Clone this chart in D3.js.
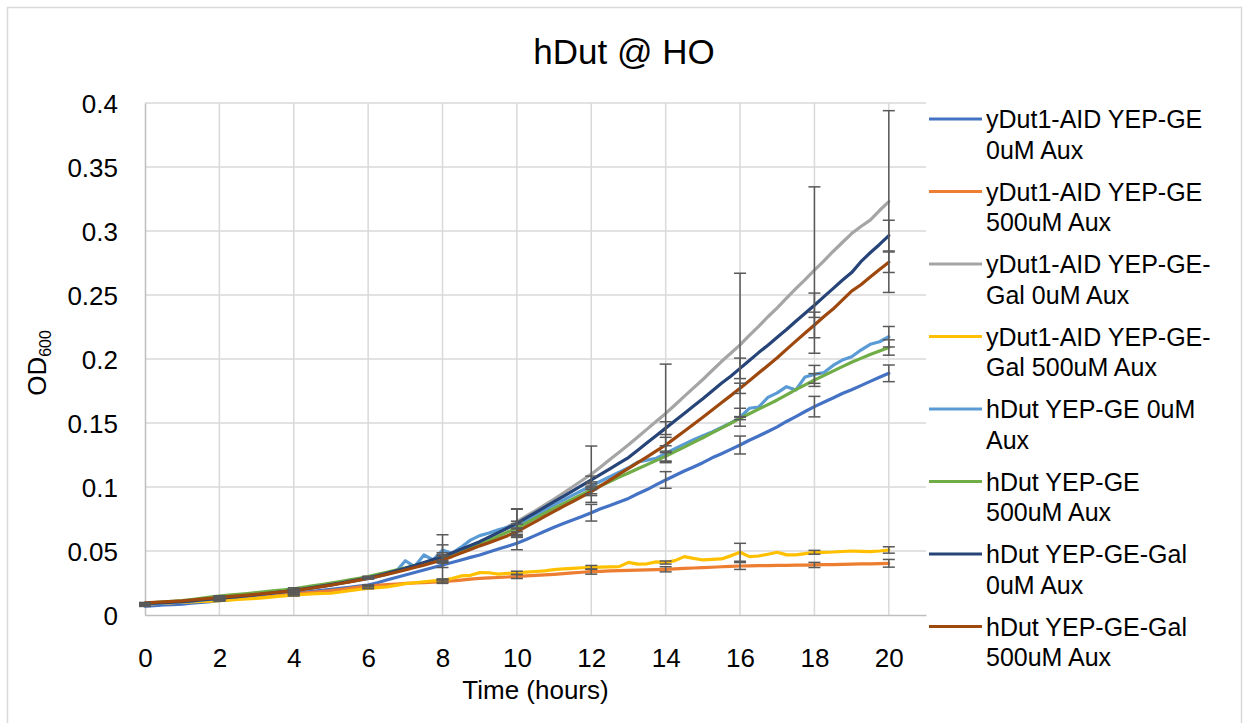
<!DOCTYPE html>
<html>
<head>
<meta charset="utf-8">
<script src="https://cdn.jsdelivr.net/npm/d3@7"></script>
<style>
  body { margin: 0; background: #fff; }
  svg { display: block; font-family: "Liberation Sans", Arial, sans-serif; }
</style>
</head>
<body>
<svg id="chart" width="1248" height="723"></svg>
<script>
// sample times, every 15 minutes from 0 to 20 hours
const hours = d3.range(0, 20.001, 0.25);
// error bars are only shown every 2 hours
const errHours = [0, 2, 4, 6, 8, 10, 12, 14, 16, 18, 20];

// OD600 values, one per sample time
const ydut1Ge0 = [
  .0070,.0074,.0078,.0081, .0085,.0092,.0098,.0105, .0112,.0119,.0126,.0133, .0140,.0148,.0155,.0163,
  .0170,.0177,.0185,.0192, .0200,.0208,.0217,.0225, .0234,.0252,.0273,.0293, .0313,.0332,.0352,.0371,
  .0391,.0410,.0430,.0450, .0469,.0492,.0515,.0537, .0560,.0590,.0622,.0654, .0685,.0714,.0742,.0770,
  .0799,.0830,.0855,.0883, .0911,.0947,.0980,.1019, .1055,.1090,.1125,.1156, .1190,.1228,.1260,.1294,
  .1328,.1365,.1398,.1434, .1470,.1512,.1550,.1590, .1628,.1662,.1695,.1730, .1760,.1792,.1825,.1857, .1888];
const ydut1Ge500 = [
  .0085,.0088,.0092,.0096, .0100,.0105,.0110,.0115, .0120,.0125,.0130,.0135, .0140,.0146,.0152,.0158,
  .0165,.0171,.0177,.0183, .0190,.0199,.0208,.0218, .0227,.0232,.0237,.0242, .0247,.0250,.0253,.0257,
  .0260,.0267,.0273,.0280, .0286,.0290,.0293,.0297, .0300,.0305,.0309,.0314, .0318,.0323,.0329,.0334,
  .0339,.0341,.0344,.0346, .0348,.0350,.0353,.0355, .0357,.0360,.0364,.0367, .0370,.0373,.0377,.0380,
  .0383,.0384,.0385,.0386, .0387,.0388,.0389,.0390, .0391,.0393,.0394,.0396, .0397,.0399,.0400,.0402, .0404];
const ydut1GeGal0 = [
  .0088,.0091,.0095,.0098, .0102,.0108,.0115,.0121, .0128,.0135,.0142,.0149, .0156,.0164,.0172,.0181,
  .0190,.0201,.0212,.0223, .0235,.0248,.0261,.0274, .0288,.0305,.0323,.0342, .0362,.0384,.0406,.0429,
  .0452,.0481,.0510,.0540, .0570,.0608,.0648,.0689, .0730,.0773,.0816,.0860, .0905,.0953,.1002,.1051,
  .1100,.1157,.1215,.1272, .1330,.1391,.1452,.1514, .1575,.1641,.1708,.1774, .1840,.1910,.1980,.2045,
  .2110,.2185,.2255,.2330, .2400,.2475,.2550,.2620, .2695,.2765,.2840,.2910, .2980,.3035,.3085,.3160, .3230];
const ydut1GeGal500 = [
  .0085,.0088,.0092,.0096, .0100,.0103,.0106,.0109, .0112,.0116,.0121,.0125, .0130,.0136,.0143,.0149,
  .0156,.0160,.0165,.0168, .0170,.0180,.0190,.0199, .0208,.0214,.0220,.0232, .0245,.0252,.0260,.0266,
  .0270,.0285,.0305,.0310, .0331,.0330,.0320,.0325, .0330,.0335,.0340,.0345, .0355,.0360,.0365,.0369,
  .0372,.0374,.0376,.0378, .0411,.0398,.0400,.0415, .0410,.0425,.0456,.0442, .0430,.0435,.0438,.0462,
  .0490,.0456,.0461,.0475, .0490,.0470,.0470,.0480, .0490,.0490,.0492,.0496, .0500,.0497,.0495,.0500, .0508];
const hdutGe0 = [
  .0085,.0089,.0093,.0098, .0102,.0109,.0116,.0123, .0130,.0137,.0144,.0151, .0158,.0166,.0174,.0182,
  .0190,.0201,.0212,.0223, .0235,.0247,.0260,.0272, .0285,.0300,.0318,.0340, .0424,.0378,.0469,.0430,
  .0508,.0480,.0530,.0585, .0620,.0640,.0665,.0685, .0703,.0740,.0780,.0820, .0860,.0898,.0936,.0973,
  .1010,.1045,.1080,.1115, .1150,.1195,.1210,.1225, .1262,.1300,.1335,.1370, .1400,.1430,.1465,.1500,
  .1545,.1615,.1625,.1700, .1735,.1784,.1758,.1860, .1880,.1893,.1950,.1992, .2018,.2070,.2115,.2135, .2174];
const hdutGe500 = [
  .0092,.0097,.0102,.0107, .0112,.0121,.0130,.0139, .0148,.0155,.0162,.0168, .0175,.0182,.0190,.0197,
  .0205,.0216,.0227,.0238, .0250,.0262,.0275,.0287, .0300,.0317,.0334,.0351, .0368,.0386,.0405,.0423,
  .0442,.0470,.0497,.0525, .0552,.0584,.0616,.0648, .0680,.0718,.0757,.0796, .0835,.0870,.0906,.0941,
  .0977,.1010,.1043,.1077, .1110,.1143,.1175,.1208, .1240,.1276,.1312,.1349, .1385,.1423,.1460,.1498,
  .1536,.1572,.1608,.1644, .1680,.1720,.1760,.1798, .1836,.1870,.1905,.1940, .1975,.2005,.2035,.2062, .2090];
const hdutGeGal0 = [
  .0090,.0093,.0097,.0101, .0105,.0111,.0117,.0123, .0130,.0137,.0144,.0151, .0158,.0166,.0175,.0183,
  .0192,.0203,.0214,.0225, .0237,.0250,.0263,.0276, .0290,.0307,.0326,.0345, .0365,.0387,.0410,.0433,
  .0456,.0485,.0514,.0543, .0573,.0608,.0644,.0680, .0716,.0758,.0800,.0843, .0885,.0927,.0970,.1012,
  .1055,.1098,.1142,.1186, .1230,.1288,.1345,.1403, .1460,.1518,.1575,.1633, .1690,.1750,.1810,.1865,
  .1927,.1988,.2050,.2108, .2170,.2230,.2295,.2358, .2420,.2485,.2550,.2615, .2675,.2760,.2830,.2895, .2964];
const hdutGeGal500 = [
  .0095,.0098,.0102,.0106, .0110,.0117,.0124,.0131, .0138,.0144,.0150,.0156, .0162,.0169,.0176,.0183,
  .0190,.0200,.0211,.0222, .0234,.0246,.0259,.0272, .0285,.0301,.0317,.0334, .0352,.0371,.0390,.0410,
  .0430,.0456,.0484,.0512, .0540,.0565,.0592,.0620, .0650,.0690,.0730,.0770, .0810,.0848,.0886,.0925,
  .0963,.1008,.1054,.1100, .1146,.1190,.1236,.1282, .1328,.1382,.1436,.1490, .1545,.1602,.1658,.1714,
  .1771,.1830,.1890,.1950, .2010,.2075,.2140,.2203, .2266,.2330,.2390,.2460, .2530,.2580,.2640,.2700, .2756];

// standard deviations at errHours, same order as the series
const ydut1Ge0Err      = [.0003,.0003,.0008,.0003,.0020,.0050,.0065,.0065,.0070,.0080,.0065];
const ydut1Ge500Err    = [.0003,.0003,.0008,.0003,.0013,.0015,.0020,.0020,.0027,.0020,.0030];
const ydut1GeGal0Err   = [.0003,.0003,.0008,.0003,.0175,.0100,.0220,.0385,.0560,.0650,.0710];
const ydut1GeGal500Err = [.0003,.0003,.0008,.0003,.0012,.0012,.0015,.0012,.0070,.0015,.0025];
const hdutGe0Err       = [.0003,.0003,.0008,.0003,.0040,.0030,.0030,.0060,.0070,.0070,.0080];
const hdutGe500Err     = [.0003,.0003,.0008,.0003,.0025,.0030,.0030,.0040,.0010,.0050,.0060];
const hdutGeGal0Err    = [.0003,.0003,.0008,.0003,.0030,.0110,.0030,.0050,.0080,.0095,.0120];
const hdutGeGal500Err  = [.0003,.0003,.0008,.0003,.0025,.0030,.0030,.0060,.0040,.0100,.0080];

// legend labels, already wrapped the way the original shows them
const seriesLabels = [
  ["yDut1-AID YEP-GE", "0uM Aux"],
  ["yDut1-AID YEP-GE", "500uM Aux"],
  ["yDut1-AID YEP-GE-", "Gal 0uM Aux"],
  ["yDut1-AID YEP-GE-", "Gal 500uM Aux"],
  ["hDut YEP-GE 0uM", "Aux"],
  ["hDut YEP-GE", "500uM Aux"],
  ["hDut YEP-GE-Gal", "0uM Aux"],
  ["hDut YEP-GE-Gal", "500uM Aux"]
];
const seriesColors = ["#4472C4", "#ED7D31", "#A5A5A5", "#FFC000", "#5B9BD5", "#70AD47", "#264478", "#9E480E"];
const xTicks = [0, 2, 4, 6, 8, 10, 12, 14, 16, 18, 20];
const yTicks = [0, 0.05, 0.1, 0.15, 0.2, 0.25, 0.3, 0.35, 0.4];

const seriesValues = [ydut1Ge0, ydut1Ge500, ydut1GeGal0, ydut1GeGal500, hdutGe0, hdutGe500, hdutGeGal0, hdutGeGal500];
const seriesErrors = [ydut1Ge0Err, ydut1Ge500Err, ydut1GeGal0Err, ydut1GeGal500Err, hdutGe0Err, hdutGe500Err, hdutGeGal0Err, hdutGeGal500Err];

const svg = d3.select("#chart");
const x = d3.scaleLinear().domain([0, 21]).range([145, 926]);
const y = d3.scaleLinear().domain([0, 0.4]).range([615, 103]);

// outer chart border
svg.append("rect").attr("x", 7.5).attr("y", 7.5).attr("width", 1234).attr("height", 730)
  .attr("fill", "#fff").attr("stroke", "#d9d9d9").attr("stroke-width", 1.5);

// gridlines
svg.append("g").selectAll("line").data(yTicks.slice(1)).enter().append("line")
  .attr("x1", x(0)).attr("x2", x(21)).attr("y1", d => y(d)).attr("y2", d => y(d))
  .attr("stroke", "#d9d9d9").attr("stroke-width", 1.5);
svg.append("g").selectAll("line").data(xTicks.slice(1)).enter().append("line")
  .attr("x1", d => x(d)).attr("x2", d => x(d)).attr("y1", y(0)).attr("y2", y(0.4))
  .attr("stroke", "#d9d9d9").attr("stroke-width", 1.5);

// axes: lines only, labels placed by the axis generator
const xAxis = svg.append("g").attr("transform", `translate(0,${y(0)})`)
  .call(d3.axisBottom(x).tickValues(xTicks).tickSize(0).tickPadding(34).tickFormat(d3.format("d")));
const yAxis = svg.append("g").attr("transform", `translate(${x(0)},0)`)
  .call(d3.axisLeft(y).tickValues(yTicks).tickSize(0).tickPadding(27).tickFormat(d => d === 0 ? "0" : String(+d.toFixed(2))));
[xAxis, yAxis].forEach(g => {
  g.select(".domain").attr("stroke", "#bfbfbf").attr("stroke-width", 1.5);
  g.selectAll("text").attr("font-size", 26).attr("fill", "#000").attr("font-family", "Liberation Sans, Arial, sans-serif");
});
yAxis.selectAll("text").attr("dy", "0.35em");

// lines
const line = d3.line().x((d, i) => x(hours[i])).y(d => y(d));
svg.append("g").selectAll("path").data(seriesValues).enter().append("path")
  .attr("d", d => line(d))
  .attr("fill", "none")
  .attr("stroke", (d, i) => seriesColors[i])
  .attr("stroke-width", 3.2)
  .attr("stroke-linejoin", "round")
  .attr("stroke-linecap", "round");

// error bars on top of the lines
const bars = [];
seriesValues.forEach((vals, s) => {
  errHours.forEach((h, k) => {
    const v = vals[hours.indexOf(h)];
    bars.push({ h: h, lo: v - seriesErrors[s][k], hi: v + seriesErrors[s][k] });
  });
});
const eb = svg.append("g").attr("stroke", "#595959").attr("stroke-width", 1.5);
eb.selectAll("line.v").data(bars).enter().append("line").attr("class", "v")
  .attr("x1", d => x(d.h)).attr("x2", d => x(d.h)).attr("y1", d => y(d.lo)).attr("y2", d => y(d.hi));
eb.selectAll("line.hi").data(bars).enter().append("line").attr("class", "hi")
  .attr("x1", d => x(d.h) - 6).attr("x2", d => x(d.h) + 6).attr("y1", d => y(d.hi)).attr("y2", d => y(d.hi));
eb.selectAll("line.lo").data(bars).enter().append("line").attr("class", "lo")
  .attr("x1", d => x(d.h) - 6).attr("x2", d => x(d.h) + 6).attr("y1", d => y(d.lo)).attr("y2", d => y(d.lo));

// title and axis titles
svg.append("text").attr("x", 624).attr("y", 64).attr("text-anchor", "middle")
  .attr("font-size", 35).attr("fill", "#000").text("hDut @ HO");
svg.append("text").attr("x", (x(0) + x(21)) / 2).attr("y", 699).attr("text-anchor", "middle")
  .attr("font-size", 26).attr("fill", "#000").text("Time (hours)");
const yTitle = svg.append("text").attr("transform", "translate(46,363) rotate(-90)")
  .attr("text-anchor", "middle").attr("font-size", 26).attr("fill", "#000");
yTitle.append("tspan").text("OD");
yTitle.append("tspan").attr("font-size", 16).attr("dy", 5).text("600");

// legend
const legend = svg.append("g").selectAll("g").data(seriesLabels).enter().append("g")
  .attr("transform", (d, i) => `translate(929,${119 + i * 72.5})`);
legend.append("line").attr("x1", 0).attr("x2", 53).attr("y1", 0).attr("y2", 0)
  .attr("stroke", (d, i) => seriesColors[i]).attr("stroke-width", 3);
legend.append("text").attr("font-size", 25).attr("fill", "#000")
  .selectAll("tspan").data(d => d).enter().append("tspan")
  .attr("x", 57).attr("y", (d, j) => 9 + j * 30.5).text(d => d);
</script>
</body>
</html>
